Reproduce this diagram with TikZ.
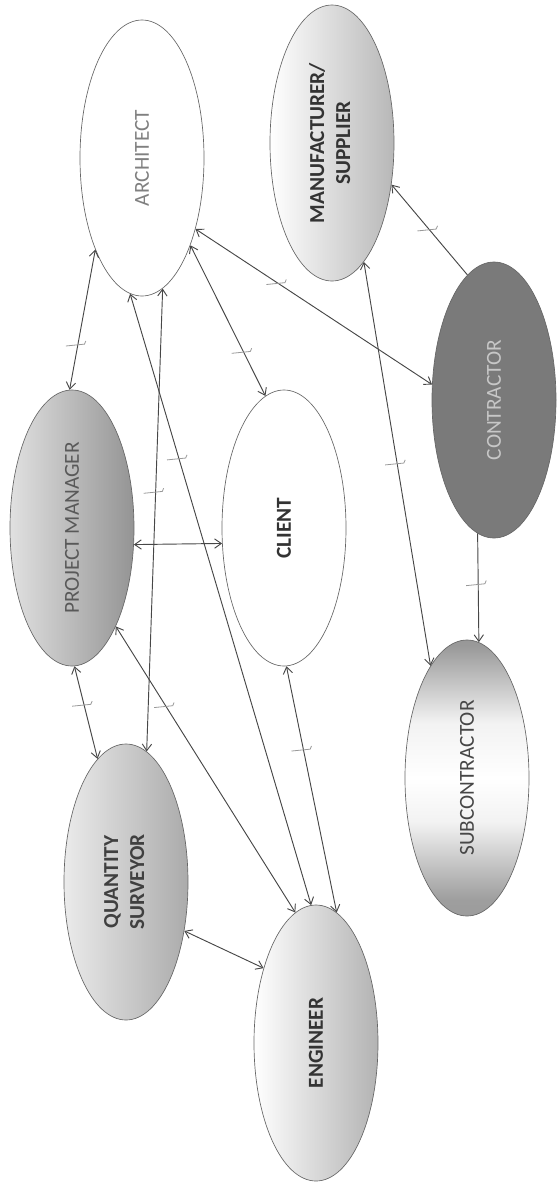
\documentclass[tikz,border=0pt]{standalone}
\usepackage{fontspec}
\setmainfont{Carlito}
\usetikzlibrary{shapes.geometric}
\usetikzlibrary{arrows.meta}
\usetikzlibrary{decorations.markings}

\pgfdeclareverticalshading{subshade}{100bp}{color(0bp)=(black!45); color(28bp)=(black!38);
  color(42bp)=(black!5); color(50bp)=(white); color(60bp)=(black!5); color(74bp)=(black!40);
  color(100bp)=(black!48)}

\tikzset{
  party/.style={ellipse, draw=black!60, line width=0.5pt, minimum width=93pt, minimum height=207pt,
    inner sep=0pt, font=\fontsize{16}{19.5}\selectfont},
  link/.style={draw=black!72, line width=0.7pt, <->},
  oneway/.style={draw=black!72, line width=0.7pt, ->},
  tickat/.style={postaction={decorate, decoration={markings, mark=at position #1 with
    {\pgftransformresetnontranslations
     \draw[black!40, line width=0.6pt, -] (-9pt,-0.8pt) -- (5pt,0.6pt) -- (6pt,3pt);}}}},
  >={Straight Barb[length=5pt,width=7pt]}
}

\begin{document}
\begin{tikzpicture}[x=0.75pt, y=-0.75pt]
\useasboundingbox (0,0) rectangle (558,1186);

% the parties
\node[party, fill=white, text=black!50] (arch) at (142,158) {\rotatebox{90}{ARCHITECT}};
\node[party, left color=white, right color=black!28, text=black!80] (manu) at (332,143)
  {\rotatebox{90}{\bfseries\begin{tabular}{@{}c@{}}MANUFACTURER/\\SUPPLIER\end{tabular}}};
\node[party, fill=black!52, text=black!22] (contr) at (494,400) {\rotatebox{90}{CONTRACTOR}};
\node[party, left color=black!12, right color=black!42, text=black!65] (pm) at (72,528)
  {\rotatebox{90}{PROJECT MANAGER}};
\node[party, fill=white, text=black!80] (client) at (284,528) {\rotatebox{90}{\bfseries CLIENT}};
\node[party, shade, shading=subshade, text=black!72] (sub) at (467,778)
  {\rotatebox{90}{SUBCONTRACTOR}};
\node[party, left color=black!8, right color=black!33, text=black!75] (qs) at (126,882)
  {\rotatebox{90}{\bfseries\begin{tabular}{@{}c@{}}QUANTITY\\SURVEYOR\end{tabular}}};
\node[party, left color=white, right color=black!30, text=black!80] (eng) at (316,1043)
  {\rotatebox{90}{\bfseries ENGINEER}};

% the links
\draw[link, tickat=0.68] (arch.243) -- (pm.91);
\draw[link, tickat=0.44] (arch.279) -- (qs.81);
\draw[link, tickat=0.27] (arch.265) -- (eng.92.5);
\draw[link, tickat=0.71] (arch.299) -- (client.98.7);
\draw[link, tickat=0.35] (arch.307) -- (contr.166);
\draw[oneway, tickat=0.5] (contr.102) -- (manu.325);
\draw[link, tickat=0.5] (manu.285.6) -- (sub.108);
\draw[oneway, tickat=0.47] (contr.263) -- (sub.85);
\draw[link] (pm.345.5) -- (client.194);
\draw[link, tickat=0.42] (pm.271) -- (qs.103);
\draw[link, tickat=0.28] (pm.294) -- (eng.99);
\draw[link, tickat=0.34] (client.271) -- (eng.81);
\draw[link] (qs.320) -- (eng.125);
\end{tikzpicture}
\end{document}
